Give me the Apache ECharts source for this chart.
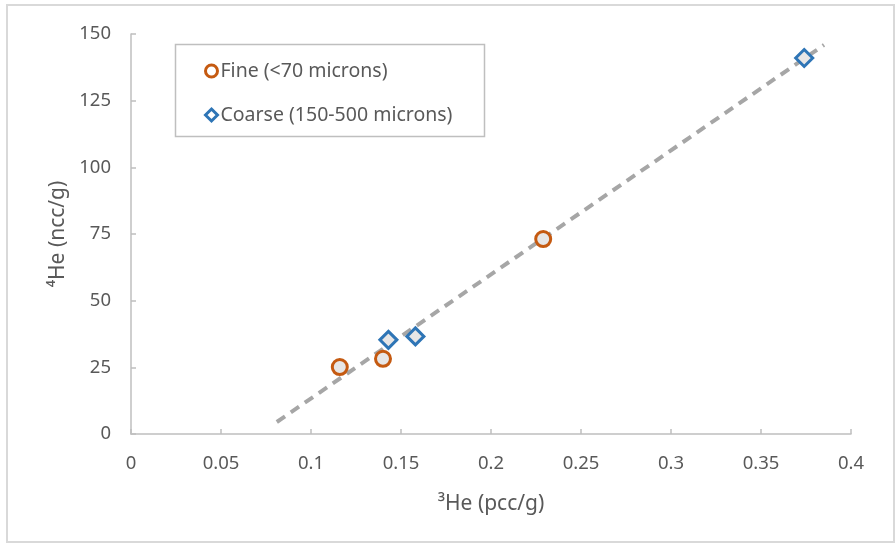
<!DOCTYPE html>
<html>
<head>
<meta charset="utf-8">
<script src="https://cdn.jsdelivr.net/npm/echarts@6/dist/echarts.min.js"></script>
<style>
html,body{margin:0;padding:0;background:#fff;}
#chart{width:895px;height:544px;}
</style>
</head>
<body>
<div id="chart"></div>
<script>
// Data
const fineName = 'Fine (<70 microns)';
const coarseName = 'Coarse (150-500 microns)';
const fineX = [0.116, 0.140, 0.229];
const fineY = [25.1, 28.2, 73.1];
const coarseX = [0.143, 0.158, 0.374];
const coarseY = [35.3, 36.6, 141.0];
const trendX = [0.081, 0.385];
const trendY = [4.5, 145.9];
const xTicks = [0, 0.05, 0.1, 0.15, 0.2, 0.25, 0.3, 0.35, 0.4];
const yTicks = [0, 25, 50, 75, 100, 125, 150];

const font = 'Noto Sans';
const textColor = '#595959';
const axisColor = '#bfbfbf';

const zip = (a, b) => a.map((v, i) => [v, b[i]]);

const chart = echarts.init(document.getElementById('chart'), null, {renderer: 'canvas'});
chart.setOption({
  animation: false,
  backgroundColor: '#fff',
  textStyle: {fontFamily: font},
  grid: {left: 131, right: 44, top: 34, bottom: 110, containLabel: false},
  graphic: [
    {type: 'rect', shape: {x: 7, y: 5, width: 887, height: 537}, style: {fill: 'none', stroke: '#d9d9d9', lineWidth: 2}, silent: true, z: -10},
    {type: 'rect', shape: {x: 175.5, y: 44.5, width: 309, height: 92}, style: {fill: '#fff', stroke: '#bfbfbf', lineWidth: 1.5}, silent: true, z: 5}
  ],
  legend: {
    left: 199, top: 56, orient: 'vertical', itemGap: 24, itemWidth: 12, itemHeight: 12,
    z: 10,
    textStyle: {fontFamily: font, fontSize: 19.5, color: textColor, padding: [0, 0, 0, -2]},
    data: [
      {name: fineName, icon: 'circle', itemStyle: {color: '#fff', borderColor: '#C55A11', borderWidth: 3}},
      {name: coarseName, icon: 'diamond', itemStyle: {color: '#fff', borderColor: '#2E75B6', borderWidth: 3}}
    ]
  },
  xAxis: {
    type: 'value', min: 0, max: 0.4, interval: 0.05,
    name: '³He (pcc/g)', nameLocation: 'middle', nameGap: 60,
    nameTextStyle: {fontFamily: font, fontSize: 21, color: textColor},
    axisLine: {lineStyle: {color: axisColor, width: 1.5}},
    axisTick: {show: true, inside: true, length: 5, lineStyle: {color: axisColor, width: 1.5}},
    axisLabel: {
      margin: 20, fontFamily: font, fontSize: 18.5, color: textColor,
      formatter: v => { const t = xTicks.find(x => Math.abs(x - v) < 1e-9); return t === undefined ? '' : String(t); }
    },
    splitLine: {show: false}
  },
  yAxis: {
    type: 'value', min: 0, max: 150, interval: 25,
    name: '⁴He (ncc/g)', nameLocation: 'middle', nameGap: 60,
    nameTextStyle: {fontFamily: font, fontSize: 21, color: textColor},
    axisLine: {show: true, lineStyle: {color: axisColor, width: 1.5}},
    axisTick: {show: true, inside: true, length: 5, lineStyle: {color: axisColor, width: 1.5}},
    axisLabel: {
      margin: 20, fontFamily: font, fontSize: 18.5, color: textColor,
      formatter: v => { const t = yTicks.find(y => Math.abs(y - v) < 1e-9); return t === undefined ? '' : String(t); }
    },
    splitLine: {show: false}
  },
  series: [
    {
      name: 'trend', type: 'line', data: zip(trendX, trendY), symbol: 'none', silent: true,
      lineStyle: {color: '#a6a6a6', width: 4, type: [10, 7], cap: 'butt'}, z: 1
    },
    {
      name: fineName, type: 'scatter', data: zip(fineX, fineY), symbol: 'circle', symbolSize: 15,
      itemStyle: {color: '#e7e6e6', borderColor: '#C55A11', borderWidth: 3, opacity: 1}, z: 3
    },
    {
      name: coarseName, type: 'scatter', data: zip(coarseX, coarseY), symbol: 'diamond', symbolSize: 17,
      itemStyle: {color: '#e7e6e6', borderColor: '#2E75B6', borderWidth: 3, opacity: 1}, z: 3
    }
  ]
});
</script>
</body>
</html>
